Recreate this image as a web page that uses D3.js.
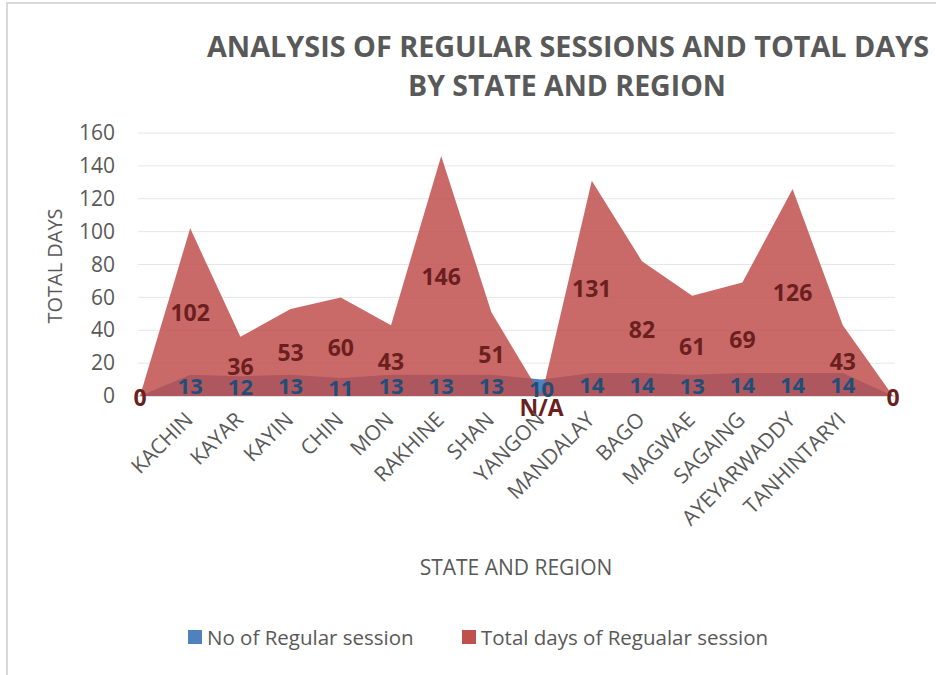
<!DOCTYPE html>
<html>
<head>
<meta charset="utf-8">
<script src="https://cdn.jsdelivr.net/npm/d3@7"></script>
<style>
  body { margin: 0; background: #fff; }
  svg { font-family: "Open Sans", "DejaVu Sans", sans-serif; }
</style>
</head>
<body>
<div id="chart"><svg></svg></div>
<script>
// categories (blank slots at both ends, as in the original sheet)
var categories = ['', 'KACHIN', 'KAYAR', 'KAYIN', 'CHIN', 'MON', 'RAKHINE', 'SHAN', 'YANGON',
    'MANDALAY', 'BAGO', 'MAGWAE', 'SAGAING', 'AYEYARWADDY', 'TANHINTARYI', ' '];
var sessions  = [0, 13, 12, 13, 11, 13, 13, 13, 10, 14, 14, 13, 14, 14, 14, 0];
var totalDays = [0, 102, 36, 53, 60, 43, 146, 51, 0, 131, 82, 61, 69, 126, 43, 0];
var dayLabels = ['0', '102', '36', '53', '60', '43', '146', '51', 'N/A', '131', '82', '61', '69', '126', '43', '0'];
var yTicks = [0, 20, 40, 60, 80, 100, 120, 140, 160];

var W = 936, H = 675;
var svg = d3.select('#chart').select('svg').attr('width', W).attr('height', H);

// outer frame (runs off the right and bottom edges)
svg.append('rect')
    .attr('x', 7).attr('y', 3).attr('width', 960).attr('height', 700)
    .attr('fill', 'none').attr('stroke', '#d9d9d9').attr('stroke-width', 2);

var x = d3.scalePoint().domain(d3.range(categories.length)).range([140, 893]);
var y = d3.scaleLinear().domain([0, 160]).range([396, 133]);

// title
var title = svg.append('text')
    .attr('text-anchor', 'middle')
    .attr('fill', '#595959')
    .attr('font-weight', 'bold')
    .attr('font-size', 28);
title.append('tspan').attr('x', 568).attr('y', 57)
    .attr('textLength', 722).attr('lengthAdjust', 'spacingAndGlyphs')
    .text('ANALYSIS OF REGULAR SESSIONS AND TOTAL DAYS');
title.append('tspan').attr('x', 567).attr('y', 96)
    .attr('textLength', 318).attr('lengthAdjust', 'spacingAndGlyphs')
    .text('BY STATE AND REGION');

// gridlines
svg.append('g').selectAll('line').data(yTicks).enter()
    .append('line')
    .attr('x1', 138).attr('x2', 895)
    .attr('y1', function (d) { return y(d); })
    .attr('y2', function (d) { return y(d); })
    .attr('stroke', function (d) { return d === 0 ? '#bfbfbf' : '#e6e6e6'; })
    .attr('stroke-width', 1);

// y axis labels
var yAxis = d3.axisLeft(y).tickValues(yTicks).tickSize(0).tickPadding(0);
var gy = svg.append('g').attr('transform', 'translate(115,0)').call(yAxis);
gy.select('.domain').remove();
gy.selectAll('text').attr('font-size', 21).attr('fill', '#595959')
    .attr('font-family', '"Open Sans", sans-serif');

svg.append('text')
    .attr('transform', 'translate(62,266) rotate(-90)')
    .attr('text-anchor', 'middle')
    .attr('font-size', 20).attr('fill', '#595959')
    .text('TOTAL DAYS');

// areas
var areaOf = function (vals) {
    return d3.area()
        .x(function (d, i) { return x(i); })
        .y0(y(0))
        .y1(function (d) { return y(d); })(vals);
};

svg.append('path').attr('d', areaOf(sessions)).attr('fill', '#4f81bd');
svg.append('path').attr('d', areaOf(totalDays)).attr('fill', '#c0504d').attr('opacity', 0.85);

// value labels
svg.append('g').selectAll('text').data(totalDays).enter()
    .append('text')
    .attr('x', function (d, i) { return x(i); })
    .attr('y', function (d, i) {
        if (i === 0 || i === categories.length - 1) return y(0) + 10;
        if (dayLabels[i] === 'N/A') return y(0) + 20;
        return y(d / 2) + 9;
    })
    .attr('text-anchor', 'middle')
    .attr('font-size', 23).attr('font-weight', 'bold')
    .attr('fill', '#6b1f1f')
    .text(function (d, i) { return dayLabels[i]; });

svg.append('g').selectAll('text').data(sessions).enter()
    .filter(function (d, i) { return i > 0 && i < categories.length - 1; })
    .append('text')
    .attr('x', function (d, i) { return x(i + 1); })
    .attr('y', function (d) { return y(d / 2) + 9; })
    .attr('text-anchor', 'middle')
    .attr('font-size', 22).attr('font-weight', 'bold')
    .attr('fill', '#1f4e79')
    .text(function (d) { return d; });

// x category labels
svg.append('g').selectAll('text').data(categories).enter()
    .append('text')
    .attr('transform', function (d, i) { return 'translate(' + (x(i) + 4) + ',421) rotate(-45)'; })
    .attr('text-anchor', 'end')
    .attr('font-size', 21).attr('fill', '#595959')
    .text(function (d) { return d.trim(); });

svg.append('text')
    .attr('x', 516).attr('y', 575)
    .attr('text-anchor', 'middle')
    .attr('font-size', 21).attr('fill', '#595959')
    .text('STATE AND REGION');

// legend
var legend = [
    { name: 'No of Regular session', color: '#4f81bd', x: 188 },
    { name: 'Total days of Regualar session', color: '#c0504d', x: 462 }
];
var lg = svg.append('g').selectAll('g').data(legend).enter()
    .append('g').attr('transform', function (d) { return 'translate(' + d.x + ',630)'; });
lg.append('rect').attr('width', 14).attr('height', 14).attr('fill', function (d) { return d.color; });
lg.append('text').attr('x', 19).attr('y', 15)
    .attr('font-size', 20.5).attr('fill', '#595959')
    .text(function (d) { return d.name; });
</script>
</body>
</html>
